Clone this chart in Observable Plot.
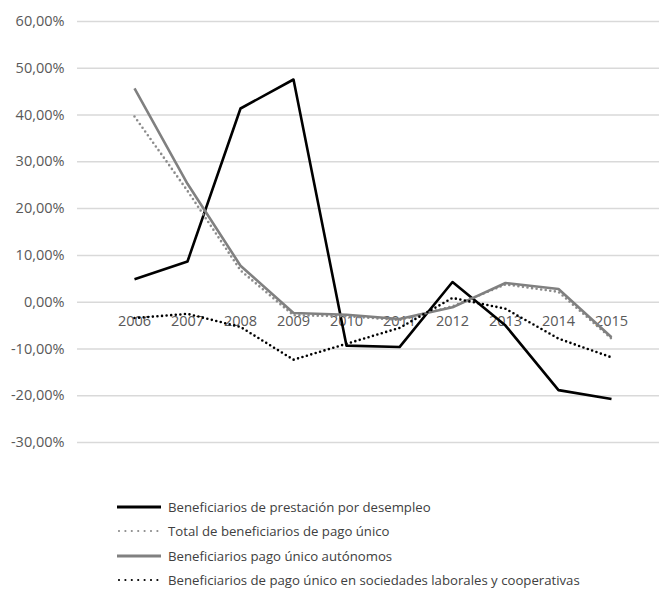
<!DOCTYPE html>
<html>
<head>
<meta charset="utf-8">
<script src="https://cdn.jsdelivr.net/npm/d3@7"></script>
<script src="https://cdn.jsdelivr.net/npm/@observablehq/plot@0.6"></script>
<style>
  body { margin: 0; background: #fff; font-family: "Open Sans", sans-serif; }
  #legend { padding-left: 117px; padding-top: 24.5px; }
  .row { display: flex; align-items: center; height: 24.5px; font-size: 13.2px; color: #404040; white-space: nowrap; }
  .row svg { margin-right: 7px; }
</style>
</head>
<body>
<div id="chart"></div>
<div id="legend"></div>
<script>
const years = ["2006","2007","2008","2009","2010","2011","2012","2013","2014","2015"];
const seriesNames = [
  "Beneficiarios de prestación por desempleo",
  "Total de beneficiarios de pago único",
  "Beneficiarios pago único autónomos",
  "Beneficiarios de pago único en sociedades laborales y cooperativas"
];
const prestacion = [4.9, 8.7, 41.4, 47.6, -9.3, -9.6, 4.3, -5.0, -18.8, -20.7];
const totalPagoUnico = [39.7, 23.8, 6.8, -2.8, -3.0, -3.8, -0.9, 3.8, 2.2, -7.8];
const autonomos = [45.7, 25.3, 7.8, -2.3, -2.7, -3.6, -1.1, 4.1, 2.8, -7.5];
const sociedades = [-3.4, -2.5, -5.3, -12.3, -8.9, -5.5, 0.9, -1.4, -7.8, -11.8];
const yTicks = [-0.3, -0.2, -0.1, 0, 0.1, 0.2, 0.3, 0.4, 0.5, 0.6];

const styles = [
  {stroke: "#000000", dash: null},
  {stroke: "#8c8c8c", dash: "0 4.6"},
  {stroke: "#808080", dash: null},
  {stroke: "#000000", dash: "0 4.6"}
];
const allValues = [prestacion, totalPagoUnico, autonomos, sociedades];
const rows = [];
allValues.forEach((vals, si) => years.forEach((y, i) => rows.push({series: si, year: y, value: vals[i] / 100})));

const locale = d3.formatLocale({decimal: ",", thousands: ".", grouping: [3], currency: ["", "€"], minus: "-"});
const pct = locale.format(".2%");

const lineMarks = allValues.map((_, si) => Plot.line(rows.filter(d => d.series === si), {
  x: "year", y: "value",
  stroke: styles[si].stroke,
  strokeWidth: 2.6,
  strokeDasharray: styles[si].dash,
  strokeLinecap: styles[si].dash ? "round" : "butt",
  strokeLinejoin: "round"
}));

const chart = Plot.plot({
  width: 661,
  height: 470,
  marginLeft: 77,
  marginRight: 2,
  marginTop: 21,
  marginBottom: 28,
  style: {fontFamily: "Open Sans", fontSize: "14.5px", color: "#595959", background: "#fff"},
  x: {type: "point", domain: years, range: [107, 638], axis: null},
  y: {domain: [-0.3, 0.6], axis: null},
  marks: [
    Plot.ruleY(yTicks, {stroke: "#d9d9d9", strokeWidth: 1.5}),
    Plot.axisY(yTicks, {tickSize: 0, tickPadding: 13, tickFormat: pct, fill: "#595959", fontSize: 14.5, label: null}),
    Plot.text(years, {x: d => d, y: 0, dy: 19, text: d => d, fill: "#595959", fontSize: 14.5}),
    ...lineMarks
  ]
});
document.getElementById("chart").appendChild(chart);

const legend = document.getElementById("legend");
seriesNames.forEach((name, si) => {
  const row = document.createElement("div");
  row.className = "row";
  const s = styles[si];
  const line = s.dash
    ? `<line x1="2" y1="3" x2="42" y2="3" stroke="${s.stroke}" stroke-width="2.2" stroke-dasharray="0 6.4" stroke-linecap="round"/>`
    : `<line x1="0" y1="3" x2="44" y2="3" stroke="${s.stroke}" stroke-width="3"/>`;
  row.innerHTML = `<svg width="44" height="6">${line}</svg><span>${name}</span>`;
  legend.appendChild(row);
});
</script>
</body>
</html>
